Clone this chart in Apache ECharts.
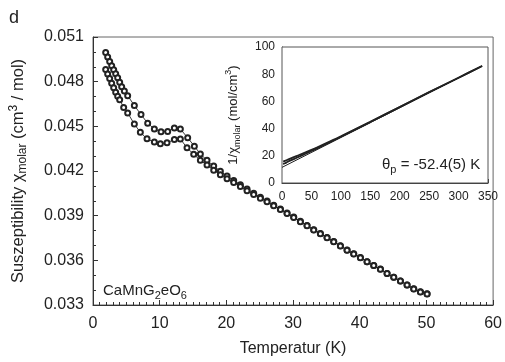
<!DOCTYPE html>
<html>
<head>
<meta charset="utf-8">
<script src="https://cdn.jsdelivr.net/npm/echarts@6/dist/echarts.min.js"></script>
<style>html,body{margin:0;padding:0;background:#fff}#c{width:505px;height:362px}</style>
</head>
<body>
<div id="c"></div>
<script>
// Main plot: susceptibility vs temperature (two measurements)
var tempA = [1.9,2.2,2.5,2.8,3.1,3.4,3.7,4.0,4.3,4.7,5.2,6.2,7.2,8.2,9.2,10.2,11.2,12.2,13.1,14.2,15.2,16.1,17.1,18.1,19.1,20.1,21.1,22.1,23.1,24.1,25.1,26.1,27.1,28.1,29.1,30.1,31.1,32.1,33.1,34.1,35.1,36.1,37.1,38.1,39.1,40.1,41.1,42.1,43.1,44.1,45.1,46.1,47.1,48.1,49.1,50.1];
var chiA = [0.04996,0.04965,0.04936,0.04907,0.04880,0.04853,0.04826,0.04796,0.04766,0.04737,0.04706,0.04640,0.04579,0.04521,0.04482,0.04464,0.04466,0.04489,0.04482,0.04423,0.04367,0.04314,0.04272,0.04234,0.04199,0.04166,0.04137,0.04108,0.04079,0.04050,0.04024,0.03998,0.03970,0.03944,0.03918,0.03891,0.03862,0.03834,0.03806,0.03780,0.03753,0.03726,0.03698,0.03669,0.03644,0.03619,0.03591,0.03566,0.03541,0.03512,0.03487,0.03462,0.03435,0.03409,0.03389,0.03375];
var tempB = [1.9,2.2,2.5,2.8,3.1,3.4,3.7,4.0,4.6,5.2,6.2,7.1,8.1,9.2,10.1,11.1,12.2,13.1,14.1,15.1,16.1,17.1,18.1,19.1,20.1,21.1,22.1,23.1,24.1,25.1,26.1,27.1,28.1,29.1,30.1,31.1,32.1,33.1,34.1,35.1,36.1,37.1,38.1,39.1,40.1,41.1,42.1,43.1,44.1,45.1,46.1,47.1,48.1,49.1,50.1];
var chiB = [0.04881,0.04852,0.04821,0.04789,0.04759,0.04729,0.04702,0.04679,0.04627,0.04590,0.04515,0.04460,0.04416,0.04394,0.04383,0.04390,0.04411,0.04415,0.04356,0.04312,0.04272,0.04240,0.04205,0.04175,0.04148,0.04122,0.04096,0.04068,0.04042,0.04017,0.03994,0.03966,0.03941,0.03915,0.03888,0.03859,0.03832,0.03804,0.03778,0.03752,0.03725,0.03697,0.03668,0.03643,0.03618,0.03590,0.03565,0.03540,0.03511,0.03486,0.03461,0.03434,0.03408,0.03388,0.03374];
// Inset: inverse susceptibility vs temperature
var insetT = [2,5,10,20,30,40,50,60,80,100,150,200,250,300,340];
var invA = [15.7,16.3,17.2,19.0,20.8,22.5,24.3,26.2,30.2,34.3,45.0,55.9,66.8,77.4,86.0];
var invB = [13.9,14.5,15.6,17.6,19.6,21.5,23.5,25.5,29.7,34.0,44.8,55.8,66.7,77.4,86.0];
var fitT = [0,340];
var fitInv = [11.5,86.0];
var mainYTicks = {min:0.033, max:0.051, step:0.003};
var mainXTicks = {min:0, max:60, step:10};
var insetXTicks = {min:0, max:350, step:50};
var insetYTicks = {min:0, max:100, step:20};

function pairs(x, y){ return x.map(function(v,i){ return [v, y[i]]; }); }

var FF = '"Liberation Sans", Arial, Helvetica, sans-serif';
var TXT = '#222';
var AX = '#333';

var chart = echarts.init(document.getElementById('c'), null, {renderer:'canvas'});
var circleSeries = function(data){
  return {type:'line', xAxisIndex:0, yAxisIndex:0, data:data, symbol:'emptyCircle', symbolSize:5, showAllSymbol:true,
    lineStyle:{color:'#222', width:0.9}, itemStyle:{color:'#222', borderColor:'#222', borderWidth:0.8}, z:3};
};
chart.setOption({
  animation:false,
  backgroundColor:'#fff',
  textStyle:{fontFamily:FF},
  title:[
    {text:'d', left:9, top:9, padding:0, textStyle:{fontFamily:FF, fontSize:18, fontWeight:'normal', color:TXT}},
    {text:'θ{sub|p} = -52.4(5) K', left:382, top:155, padding:0,
      textStyle:{fontFamily:FF, fontSize:15, fontWeight:'normal', color:TXT, lineHeight:20,
        rich:{sub:{fontFamily:FF, fontSize:11, color:TXT, lineHeight:11, verticalAlign:'bottom'}}}},
    {text:'CaMnG{sub|2}eO{sub|6}', left:103, top:281, padding:0,
      textStyle:{fontFamily:FF, fontSize:15, fontWeight:'normal', color:TXT, lineHeight:20,
        rich:{sub:{fontFamily:FF, fontSize:11, color:TXT, lineHeight:11, verticalAlign:'bottom'}}}}
  ],
  grid:[
    {left:86, right:8, top:37, bottom:54, show:true, borderColor:'#666', borderWidth:1, backgroundColor:'transparent'},
    {left:282, right:17, top:47, bottom:179, show:true, borderColor:'#555', borderWidth:1, backgroundColor:'#fff', z:5}
  ],
  xAxis:[
    {type:'value', gridIndex:0, min:mainXTicks.min, max:mainXTicks.max, interval:mainXTicks.step,
      name:'Temperatur (K)', nameLocation:'middle', nameGap:36,
      nameTextStyle:{fontFamily:FF, fontSize:16, color:TXT},
      axisLine:{show:true, onZero:false, lineStyle:{color:AX, width:1}},
      axisTick:{show:true, inside:true, length:5, lineStyle:{color:AX}},
      minorTick:{show:true, splitNumber:10, length:3, lineStyle:{color:AX}},
      splitLine:{show:false},
      axisLabel:{fontFamily:FF, fontSize:16, color:TXT, margin:11}},
    {type:'value', gridIndex:1, min:insetXTicks.min, max:insetXTicks.max, interval:insetXTicks.step,
      axisLine:{show:true, onZero:false, lineStyle:{color:AX, width:1}},
      axisTick:{show:true, inside:true, length:4, lineStyle:{color:AX}},
      minorTick:{show:true, splitNumber:5, length:2, lineStyle:{color:AX}},
      splitLine:{show:false},
      axisLabel:{fontFamily:FF, fontSize:12, color:TXT, margin:8}}
  ],
  yAxis:[
    {type:'value', gridIndex:0, min:mainYTicks.min, max:mainYTicks.max, interval:mainYTicks.step,
      name:'Suszeptibility χ{sub|molar} (cm{sup|3} / mol)', nameLocation:'middle', nameRotate:90, nameGap:64,
      nameTextStyle:{fontFamily:FF, fontSize:16.5, color:TXT, lineHeight:21,
        rich:{sub:{fontFamily:FF, fontSize:12, color:TXT, lineHeight:12, verticalAlign:'bottom'},
              sup:{fontFamily:FF, fontSize:12, color:TXT, lineHeight:12, verticalAlign:'top'}}},
      axisLine:{show:true, onZero:false, lineStyle:{color:AX, width:1}},
      axisTick:{show:true, inside:true, length:5, lineStyle:{color:AX}},
      minorTick:{show:true, splitNumber:3, length:3, lineStyle:{color:AX}},
      splitLine:{show:false},
      axisLabel:{fontFamily:FF, fontSize:16, color:TXT, margin:9, formatter:function(v){return v.toFixed(3);}}},
    {type:'value', gridIndex:1, min:insetYTicks.min, max:insetYTicks.max, interval:insetYTicks.step,
      name:'1/χ{sub|molar} (mol/cm{sup|3})', nameLocation:'middle', nameRotate:90, nameGap:40,
      nameTextStyle:{fontFamily:FF, fontSize:13, color:TXT, lineHeight:18,
        rich:{sub:{fontFamily:FF, fontSize:9, color:TXT, lineHeight:9, verticalAlign:'bottom'},
              sup:{fontFamily:FF, fontSize:9, color:TXT, lineHeight:9, verticalAlign:'top'}}},
      axisLine:{show:true, onZero:false, lineStyle:{color:AX, width:1}},
      axisTick:{show:true, inside:true, length:4, lineStyle:{color:AX}},
      minorTick:{show:true, splitNumber:2, length:2, lineStyle:{color:AX}},
      splitLine:{show:false},
      axisLabel:{fontFamily:FF, fontSize:12, color:TXT, margin:7}}
  ],
  series:[
    circleSeries(pairs(tempA, chiA)),
    circleSeries(pairs(tempB, chiB)),
    {type:'line', xAxisIndex:1, yAxisIndex:1, data:pairs(insetT, invA), symbol:'none', smooth:0.3,
      lineStyle:{color:'#222', width:1.8}, z:6},
    {type:'line', xAxisIndex:1, yAxisIndex:1, data:pairs(insetT, invB), symbol:'none', smooth:0.3,
      lineStyle:{color:'#222', width:1.8}, z:6},
    {type:'line', xAxisIndex:1, yAxisIndex:1, data:pairs(fitT, fitInv), symbol:'none',
      lineStyle:{color:'#222', width:1}, z:6}
  ]
});
</script>
</body>
</html>
